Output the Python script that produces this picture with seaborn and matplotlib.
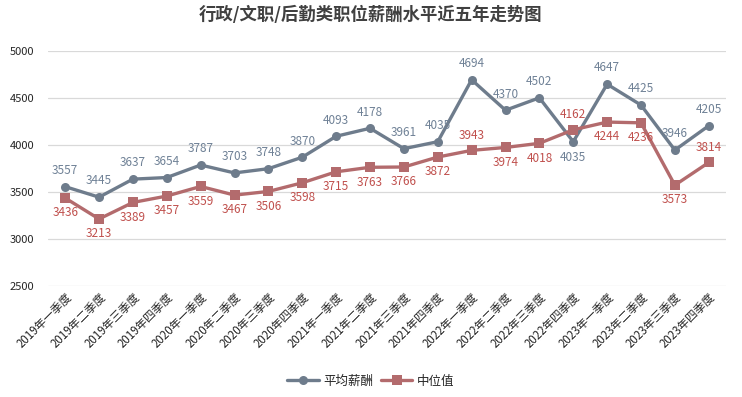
import pandas as pd
import seaborn as sns
import numpy as np
import matplotlib.pyplot as plt

# quarters 2019-2023
quarters = ['2019年一季度', '2019年二季度', '2019年三季度', '2019年四季度',
            '2020年一季度', '2020年二季度', '2020年三季度', '2020年四季度',
            '2021年一季度', '2021年二季度', '2021年三季度', '2021年四季度',
            '2022年一季度', '2022年二季度', '2022年三季度', '2022年四季度',
            '2023年一季度', '2023年二季度', '2023年三季度', '2023年四季度']
avg_salary = [3557, 3445, 3637, 3654, 3787, 3703, 3748, 3870, 4093, 4178,
              3961, 4035, 4694, 4370, 4502, 4035, 4647, 4425, 3946, 4205]
median_salary = [3436, 3213, 3389, 3457, 3559, 3467, 3506, 3598, 3715, 3763,
                 3766, 3872, 3943, 3974, 4018, 4162, 4244, 4236, 3573, 3814]
# where the value labels sit (1 = above the point, -1 = below)
avg_label_side = [1] * 20
avg_label_side[15] = -1
median_label_side = [-1] * 20
for i in (12, 15, 19):
    median_label_side[i] = 1

sns.set_theme(style='white')
plt.rcParams['font.family'] = ['Noto Sans CJK SC', 'DejaVu Sans']

df = pd.DataFrame({'pos': np.arange(len(quarters)), 'quarter': quarters,
                   '平均薪酬': avg_salary, '中位值': median_salary})

avg_color = '#6E7C8C'
med_color = '#B36B6D'

fig = plt.figure(figsize=(7.42, 3.97), dpi=100)
ax = fig.add_axes([0.065, 0.2796, 0.913, 0.5919])

sns.lineplot(x='pos', y='平均薪酬', data=df, ax=ax, color=avg_color, lw=2.4,
             marker='o', markersize=6.5, markeredgewidth=0, label='平均薪酬')
sns.lineplot(x='pos', y='中位值', data=df, ax=ax, color=med_color, lw=2.4,
             marker='s', markersize=6.5, markeredgewidth=0, label='中位值')

for i in range(len(quarters)):
    ax.annotate(str(avg_salary[i]), (i, avg_salary[i]), xytext=(0, 7 * avg_label_side[i]),
                textcoords='offset points', ha='center',
                va='bottom' if avg_label_side[i] > 0 else 'top',
                fontsize=8.5, color='#6F8196')
    ax.annotate(str(median_salary[i]), (i, median_salary[i]), xytext=(0, 6 * median_label_side[i]),
                textcoords='offset points', ha='center',
                va='bottom' if median_label_side[i] > 0 else 'top',
                fontsize=8.5, color='#C0504D')

ax.set_ylim(2500, 5000)
ax.set_yticks([2500, 3000, 3500, 4000, 4500, 5000])
ax.set_xlim(-0.5, len(quarters) - 0.5)
ax.set_xticks(df.pos)
ax.set_xticklabels(quarters, rotation=45, ha='right', rotation_mode='anchor', fontsize=8.3)
ax.tick_params(axis='y', labelsize=8, length=0, pad=10)
ax.tick_params(axis='x', length=0, pad=3)
ax.yaxis.grid(True, color='#D9D9D9', lw=0.9)
ax.set_axisbelow(True)
for s in ax.spines.values():
    s.set_visible(False)
ax.set_xlabel('')
ax.set_ylabel('')

ax.get_legend().remove()
handles, labels = ax.get_legend_handles_labels()
fig.legend(handles, labels, loc='center', bbox_to_anchor=(0.5, 0.04), ncol=2, frameon=False,
           fontsize=9, handlelength=2.5, columnspacing=0.6, handletextpad=0.4)

fig.suptitle('行政/文职/后勤类职位薪酬水平近五年走势图', y=0.985, fontsize=12.5,
             fontweight='bold', color='#404040')

fig.savefig('out.png', dpi=100)
